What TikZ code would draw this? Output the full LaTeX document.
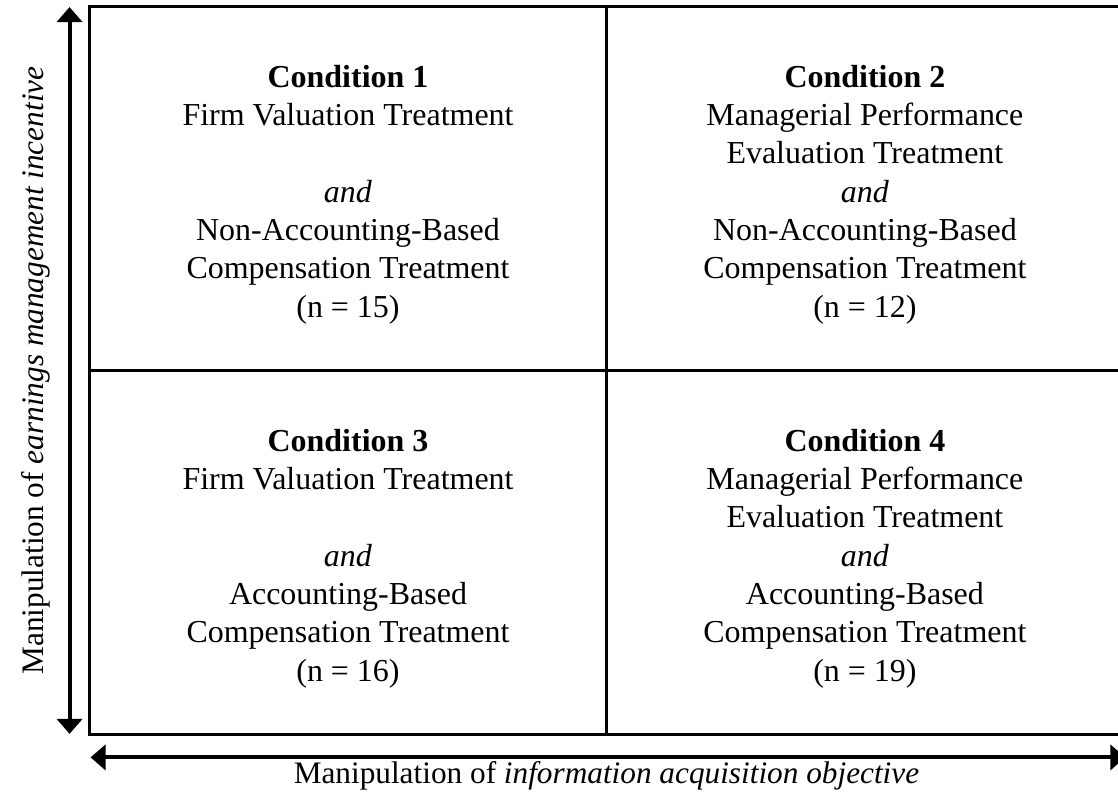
\documentclass[tikz,border=0pt]{standalone}
\usepackage{fontspec}
\setmainfont{Liberation Serif}
\usetikzlibrary{positioning, arrows.meta, calc}

\begin{document}
\begin{tikzpicture}[x=0.02cm, y=-0.02cm,
        cell/.style={draw, rectangle, line width=1.8pt, outer sep=0pt, minimum width=10.34cm, minimum height=7.28cm},
        celltext/.style={align=center, font=\fontsize{18.2pt}{21.8pt}\selectfont},
        axis/.style={{Triangle[length=0.3cm, width=0.5cm]}-{Triangle[length=0.3cm, width=0.5cm]}, line width=2.3pt},
        axislabel/.style={font=\fontsize{17.8pt}{21.8pt}\selectfont, anchor=base}
      ]
      \useasboundingbox (0,0) rectangle (1118,806);
      \clip (0,0) rectangle (1118,806);

      % the four cells
      \node[cell] (cond1) at (348,188.5) {};
      \node[cell, right=0pt of cond1] (cond2) {};
      \node[cell, below=0pt of cond1] (cond3) {};
      \node[cell, right=0pt of cond3] (cond4) {};

      % the four conditions
      \node[celltext] (text1) at ($(cond1.center)+(0,6)$) {\textbf{Condition 1}\\ Firm Valuation Treatment\\ ~\\ \textit{and}\\ Non-Accounting-Based\\ Compensation Treatment\\ (n = 15)};
      \node[celltext] (text2) at ($(cond2.center)+(0,6)$) {\textbf{Condition 2}\\ Managerial Performance\\ Evaluation Treatment\\ \textit{and}\\ Non-Accounting-Based\\ Compensation Treatment\\ (n = 12)};
      \node[celltext] (text3) at ($(cond3.center)+(0,6)$) {\textbf{Condition 3}\\ Firm Valuation Treatment\\ ~\\ \textit{and}\\ Accounting-Based\\ Compensation Treatment\\ (n = 16)};
      \node[celltext] (text4) at ($(cond4.center)+(0,6)$) {\textbf{Condition 4}\\ Managerial Performance\\ Evaluation Treatment\\ \textit{and}\\ Accounting-Based\\ Compensation Treatment\\ (n = 19)};

      % axes
      \coordinate (ytop) at ($(cond1.north west)+(-20,0.5)$);
      \coordinate (ybot) at ($(cond3.south west)+(-20,-0.5)$);
      \coordinate (xleft) at ($(cond3.south west)+(1,23)$);
      \coordinate (xright) at ($(cond4.south east)+(2,23)$);
      \draw[axis] (ybot) -- (ytop);
      \draw[axis] (xleft) -- (xright);

      % axis labels
      \node[axislabel, rotate=90] (ylabel) at ($(cond1.south west)+(-46,0)$) {Manipulation of \textit{earnings management incentive}};
      \node[axislabel] (xlabel) at ($(cond3.south east)+(0,49)$) {Manipulation of \textit{information acquisition objective}};

      \end{tikzpicture}
\end{document}
